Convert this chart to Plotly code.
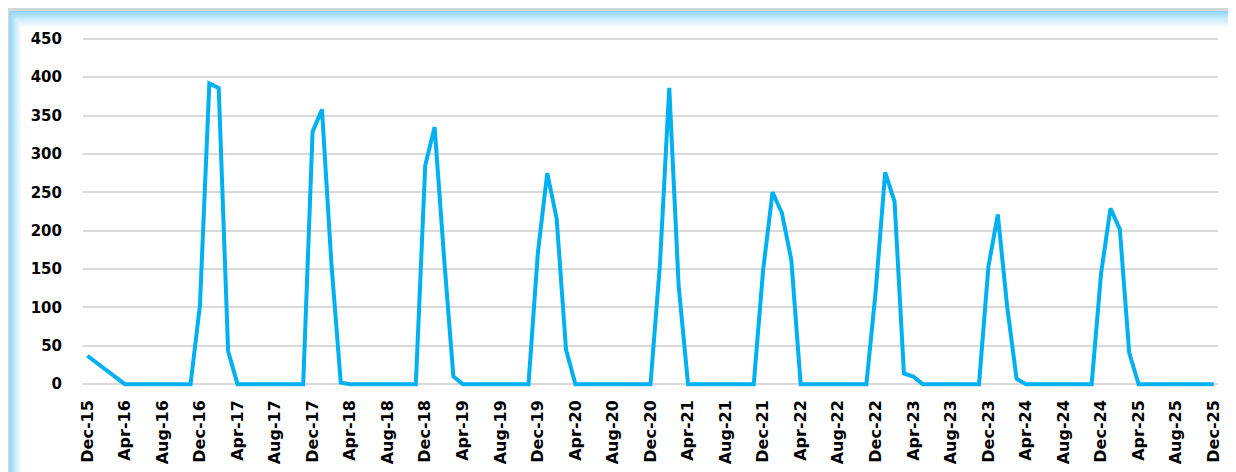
import plotly.graph_objects as go

MONTHS = ["Jan", "Feb", "Mar", "Apr", "May", "Jun", "Jul", "Aug", "Sep", "Oct", "Nov", "Dec"]
# Monthly categories Dec-15 .. Dec-25
months = ["Dec-15"] + [f"{m}-{y:02d}" for y in range(16, 26) for m in MONTHS]

values = [
    37, 28, 18, 9, 0, 0, 0, 0, 0, 0, 0, 0,            # Dec-15 .. Nov-16
    103, 392, 386, 43, 0, 0, 0, 0, 0, 0, 0, 0,        # Dec-16 .. Nov-17
    329, 358, 158, 2, 0, 0, 0, 0, 0, 0, 0, 0,         # Dec-17 .. Nov-18
    285, 335, 166, 10, 0, 0, 0, 0, 0, 0, 0, 0,        # Dec-18 .. Nov-19
    171, 275, 216, 45, 0, 0, 0, 0, 0, 0, 0, 0,        # Dec-19 .. Nov-20
    0, 155, 386, 128, 0, 0, 0, 0, 0, 0, 0, 0,         # Dec-20 .. Nov-21
    149, 250, 223, 162, 0, 0, 0, 0, 0, 0, 0, 0,       # Dec-21 .. Nov-22
    122, 276, 238, 14, 10, 0, 0, 0, 0, 0, 0, 0,       # Dec-22 .. Nov-23
    153, 221, 101, 7, 0, 0, 0, 0, 0, 0, 0, 0,         # Dec-23 .. Nov-24
    144, 229, 202, 41, 0, 0, 0, 0, 0, 0, 0, 0,        # Dec-24 .. Nov-25
    0,                                                # Dec-25
]

y_ticks = [0, 50, 100, 150, 200, 250, 300, 350, 400, 450]

idx = list(range(len(months)))
tick_idx = idx[::4]
tick_text = [months[i] for i in tick_idx]

fig = go.Figure()
fig.add_trace(go.Scatter(
    x=idx, y=values, mode="lines",
    line=dict(color="#00B0F0", width=4),
    hoverinfo="skip", showlegend=False,
))

W, H = 1236, 472
ml, mr, mt, mb = 75, 26, 27, 92
pw, ph = W - ml - mr, H - mt - mb

def px_x(p):
    return (p - ml) / pw

def px_y(p):
    return (H - mb - p) / ph

shapes = []
# outer grey border
shapes.append(dict(type="rect", xref="paper", yref="paper", layer="below",
                   x0=px_x(-1), x1=px_x(1300), y0=px_y(0), y1=px_y(600),
                   fillcolor="#d6d6d6", line=dict(width=0)))
# blue glow gradient
n = 16
c0 = (140, 212, 244)
for k in range(n + 1):
    t = k / n
    t2 = t ** 0.8
    r = int(c0[0] + (255 - c0[0]) * t2)
    g = int(c0[1] + (255 - c0[1]) * t2)
    b = int(c0[2] + (255 - c0[2]) * t2)
    shapes.append(dict(type="rect", xref="paper", yref="paper", layer="below",
                       x0=px_x(1.5 + k * 0.75), x1=px_x(1300), y0=px_y(3 + k), y1=px_y(600),
                       fillcolor=f"rgb({r},{g},{b})", line=dict(width=0)))

fig.update_layout(
    width=W, height=H,
    margin=dict(l=ml, r=mr, t=mt, b=mb),
    paper_bgcolor="white", plot_bgcolor="rgba(0,0,0,0)",
    shapes=shapes,
    font=dict(family="DejaVu Sans, sans-serif", color="black"),
    xaxis=dict(
        range=[-0.46, len(months) - 1 + 0.46],
        tickmode="array", tickvals=tick_idx, ticktext=tick_text,
        tickangle=-90, showgrid=False, zeroline=False, showline=False,
        ticks="", ticklabelstandoff=8,
        tickfont=dict(size=16, family="DejaVu Sans", weight="bold", color="black"),
    ),
    yaxis=dict(
        range=[-5, 455],
        tickmode="array", tickvals=y_ticks,
        showgrid=True, gridcolor="#d9d9d9", gridwidth=2,
        zeroline=False, showline=False, ticks="",
        ticklabelstandoff=20,
        tickfont=dict(size=15, family="DejaVu Sans", weight="bold", color="black"),
    ),
)

fig.write_html("out.html")
